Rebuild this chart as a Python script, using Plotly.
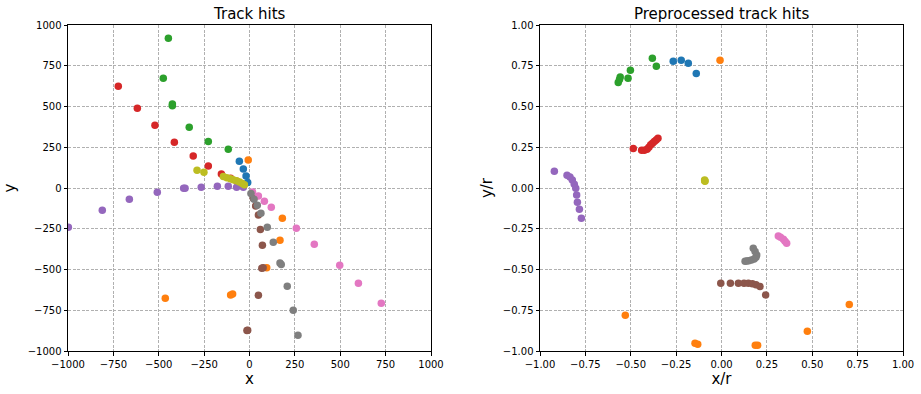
import plotly.graph_objects as go

COLORS = ["#1f77b4", "#ff7f0e", "#2ca02c", "#d62728", "#9467bd",
          "#8c564b", "#e377c2", "#7f7f7f", "#bcbd22"]

# ---- Left panel: raw hits (x, y) per track ----
raw_x = [
    [-56, -34, -19, -10],
    [-7, 181, 168, 95, -93, -104, -464],
    [-447, -475, -425, -425, -332, -227, -117],
    [-723, -618, -521, -414, -310, -227, -155, -104, -70, -40],
    [-998, -811, -662, -508, -363, -355, -266, -177, -117, -71, -34],
    [21, 34, 49, 60, 71, 68, 75, 49, -14, -10],
    [17, 49, 82, 120, 258, 357, 497, 600, 726],
    [8, 25, 43, 63, 98, 131, 168, 175, 208, 241, 267],
    [-289, -251, -144, -125, -105, -90, -72, -55, -40, -28],
]
raw_y = [
    [164, 117, 74, 33],
    [172, -186, -321, -489, -651, -657, -677],
    [918, 673, 515, 505, 372, 286, 237],
    [624, 489, 385, 280, 196, 135, 86, 60, 42, 25],
    [-241, -137, -69, -26, -2, -2, 4, 10, 10, 4, 4],
    [-63, -110, -166, -254, -351, -493, -490, -658, -875, -872],
    [-24, -49, -82, -118, -247, -345, -474, -585, -707],
    [-33, -69, -106, -155, -241, -333, -460, -470, -603, -750, -904],
    [109, 96, 70, 63, 56, 50, 44, 37, 28, 20],
]

# ---- Right panel: preprocessed hits (x/r, y/r) per track ----
pre_x = [
    [-0.266, -0.222, -0.183, -0.139],
    [-0.008, 0.704, 0.473, 0.199, 0.186, -0.131, -0.146, -0.530],
    [-0.569, -0.558, -0.562, -0.515, -0.502, -0.381, -0.359],
    [-0.486, -0.44, -0.425, -0.41, -0.40, -0.39, -0.38, -0.37, -0.36, -0.35],
    [-0.921, -0.851, -0.835, -0.822, -0.811, -0.803, -0.798, -0.794, -0.783, -0.772],
    [-0.004, 0.049, 0.093, 0.124, 0.148, 0.17, 0.19, 0.212, 0.243],
    [0.313, 0.325, 0.341, 0.35, 0.359],
    [0.175, 0.185, 0.194, 0.19, 0.18, 0.165, 0.15, 0.139, 0.13],
    [-0.091, -0.093, -0.092],
]
pre_y = [
    [0.777, 0.783, 0.765, 0.703],
    [0.783, -0.714, -0.879, -0.965, -0.965, -0.959, -0.953, -0.781],
    [0.648, 0.681, 0.665, 0.673, 0.722, 0.796, 0.747],
    [0.243, 0.232, 0.232, 0.238, 0.25, 0.265, 0.275, 0.285, 0.295, 0.305],
    [0.102, 0.078, 0.067, 0.049, 0.023, -0.002, -0.043, -0.088, -0.131, -0.186],
    [-0.585, -0.585, -0.585, -0.585, -0.585, -0.587, -0.593, -0.605, -0.656],
    [-0.294, -0.302, -0.315, -0.327, -0.339],
    [-0.370, -0.39, -0.411, -0.425, -0.435, -0.442, -0.446, -0.448, -0.45],
    [0.041, 0.049, 0.045],
]

left_ticks = [-1000, -750, -500, -250, 0, 250, 500, 750, 1000]
right_ticks = [-1.0, -0.75, -0.5, -0.25, 0.0, 0.25, 0.5, 0.75, 1.0]
left_ticktext = [str(v).replace("-", "\u2212") for v in left_ticks]
right_ticktext = [f"{v:.2f}".replace("-", "\u2212") for v in right_ticks]

fig = go.Figure()
for i, c in enumerate(COLORS):
    fig.add_trace(go.Scatter(x=raw_x[i], y=raw_y[i], mode="markers",
                             marker=dict(color=c, size=7.5, line=dict(width=0)),
                             xaxis="x", yaxis="y", showlegend=False))
for i, c in enumerate(COLORS):
    fig.add_trace(go.Scatter(x=pre_x[i], y=pre_y[i], mode="markers",
                             marker=dict(color=c, size=7.5, line=dict(width=0)),
                             xaxis="x2", yaxis="y2", showlegend=False))

FONT = "DejaVu Sans"
axis_common = dict(showline=True, mirror=True, linecolor="black", linewidth=1,
                   ticks="outside", ticklen=3.5, tickcolor="black", tickwidth=1,
                   showgrid=True, gridcolor="#b0b0b0", gridwidth=0.8, griddash="3px,1.5px",
                   zeroline=False, automargin=False,
                   tickfont=dict(family=FONT, size=10, color="black"))

ydom = [43 / 394, 369 / 394]
fig.update_layout(
    width=921, height=394,
    margin=dict(l=0, r=0, t=0, b=0),
    paper_bgcolor="white", plot_bgcolor="white",
    font=dict(family=FONT, color="black"),
    xaxis=dict(domain=[68 / 921, 431 / 921], range=[-1000, 1000], tickvals=left_ticks,
               ticktext=left_ticktext, anchor="y",
               title=dict(text="x", font=dict(family=FONT, size=15), standoff=4), **axis_common),
    yaxis=dict(domain=ydom, range=[-1000, 1000], tickvals=left_ticks,
               ticktext=left_ticktext, anchor="x",
               title=dict(text="y", font=dict(family=FONT, size=15), standoff=8), **axis_common),
    xaxis2=dict(domain=[540 / 921, 903 / 921], range=[-1, 1], tickvals=right_ticks,
                ticktext=right_ticktext, anchor="y2",
                title=dict(text="x/r", font=dict(family=FONT, size=15), standoff=4), **axis_common),
    yaxis2=dict(domain=ydom, range=[-1, 1], tickvals=right_ticks,
                ticktext=right_ticktext, anchor="x2",
                title=dict(text="y/r", font=dict(family=FONT, size=15), standoff=6), **axis_common),
    annotations=[
        dict(text="Track hits", x=(68 + 431) / 2 / 921, y=(394 - 14) / 394, xref="paper", yref="paper",
             showarrow=False, font=dict(family=FONT, size=15), xanchor="center", yanchor="middle"),
        dict(text="Preprocessed track hits", x=(540 + 903) / 2 / 921, y=(394 - 14) / 394,
             xref="paper", yref="paper", showarrow=False, font=dict(family=FONT, size=15),
             xanchor="center", yanchor="middle"),
    ],
)

fig.write_html("out.html", config={"displayModeBar": False},
               post_script="document.body.style.margin='0';")
